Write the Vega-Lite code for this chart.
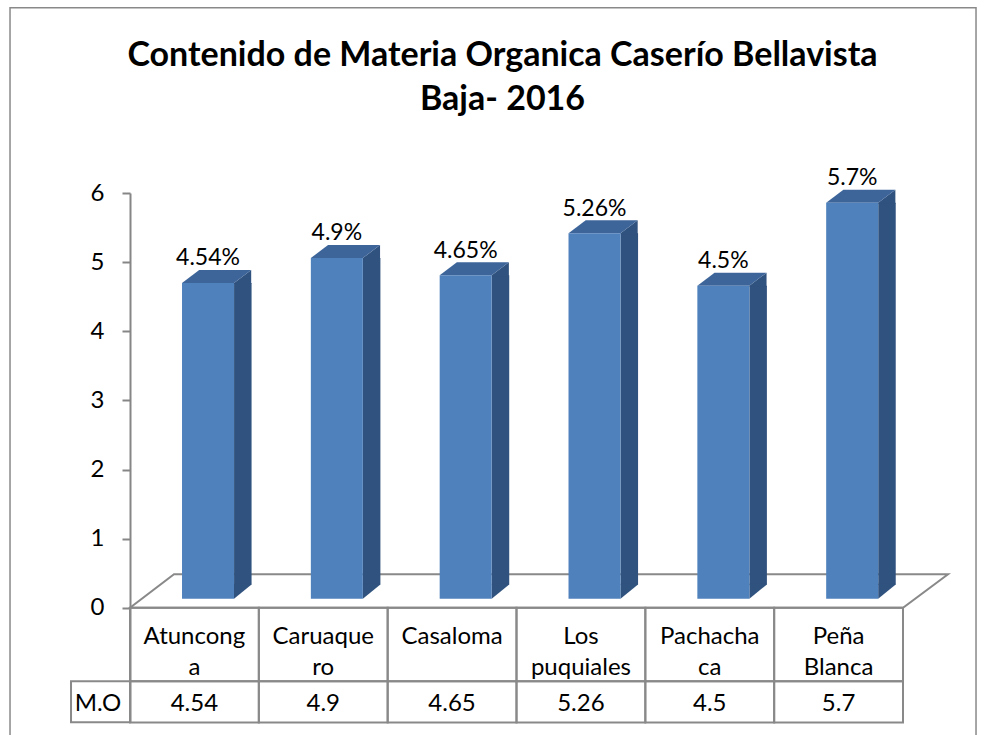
{
  "$schema": "https://vega.github.io/schema/vega-lite/v6.json",
  "width": 773,
  "height": 529.5,
  "autosize": {"type": "none"},
  "padding": {"left": 130, "top": 193, "right": 84, "bottom": 12.5},
  "background": "white",
  "config": {
    "view": {"stroke": null},
    "font": "Lato",
    "axisY": {"grid": false, "domainColor": "#868686", "domainWidth": 2, "tickColor": "#868686", "tickWidth": 2, "tickSize": 8, "labelFont": "Lato", "labelFontSize": 24, "labelColor": "#000000", "labelPadding": 18}
  },
  "title": {
    "text": ["Contenido de Materia Organica Caserío Bellavista", "Baja- 2016"],
    "font": "Lato", "fontSize": 34, "fontWeight": "bold", "color": "#000000",
    "anchor": "middle", "frame": "group", "offset": -112, "dx": -14, "lineHeight": 44
  },
  "data": {"values": [
    {"sitio": "Atunconga", "etiqueta": "Atuncong\na", "mo": 4.54},
    {"sitio": "Caruaquero", "etiqueta": "Caruaque\nro", "mo": 4.9},
    {"sitio": "Casaloma", "etiqueta": "Casaloma", "mo": 4.65},
    {"sitio": "Los puquiales", "etiqueta": "Los\npuquiales", "mo": 5.26},
    {"sitio": "Pachachaca", "etiqueta": "Pachacha\nca", "mo": 4.5},
    {"sitio": "Peña Blanca", "etiqueta": "Peña\nBlanca", "mo": 5.7}
  ]},
  "encoding": {
    "x": {"field": "sitio", "type": "nominal", "axis": null,
      "scale": {"domain": ["Atunconga", "Caruaquero", "Casaloma", "Los puquiales", "Pachachaca", "Peña Blanca"], "paddingInner": 0, "paddingOuter": 0}}
  },
  "layer": [
    {
      "data": {"values": [{}]},
      "mark": {"type": "point", "shape": "M-184.4,-185.3 L781.6,-185.3 L781.6,566 L-184.4,566 Z", "size": 4, "filled": false, "color": "#898989", "strokeWidth": 1.5, "opacity": 1},
      "encoding": {
        "x": {"datum": "Atunconga", "axis": null, "scale": {"domain": ["Atunconga", "Caruaquero", "Casaloma", "Los puquiales", "Pachachaca", "Peña Blanca"], "paddingInner": 0, "paddingOuter": 0}},
        "y": {"datum": 6, "type": "quantitative", "axis": {"title": null, "values": [0, 1, 2, 3, 4, 5, 6]}, "scale": {"domain": [-1.66, 6], "nice": false, "zero": false}}
      }
    },
    {
      "data": {"values": [{}]},
      "mark": {"type": "point", "shape": "M-64.4,0 L708.6,0 L753.6,-33.5 L-20.4,-33.5 Z", "size": 4, "filled": false, "color": "#898989", "strokeWidth": 2, "opacity": 1},
      "encoding": {
        "x": {"datum": "Atunconga", "axis": null, "scale": {"domain": ["Atunconga", "Caruaquero", "Casaloma", "Los puquiales", "Pachachaca", "Peña Blanca"], "paddingInner": 0, "paddingOuter": 0}},
        "y": {"datum": 0, "type": "quantitative", "axis": {"title": null, "values": [0, 1, 2, 3, 4, 5, 6]}, "scale": {"domain": [-1.66, 6], "nice": false, "zero": false}}
      }
    },
    {
      "mark": {"type": "rect", "fillOpacity": 0, "stroke": "#898989", "strokeWidth": 2},
      "encoding": {
        "y": {"datum": 0, "type": "quantitative", "axis": {"title": null, "values": [0, 1, 2, 3, 4, 5, 6]}, "scale": {"domain": [-1.66, 6], "nice": false, "zero": false}},
        "y2": {"datum": -1.063}
      }
    },
    {
      "mark": {"type": "rect", "fillOpacity": 0, "stroke": "#898989", "strokeWidth": 2},
      "encoding": {
        "y": {"datum": -1.063, "type": "quantitative", "axis": {"title": null, "values": [0, 1, 2, 3, 4, 5, 6]}, "scale": {"domain": [-1.66, 6], "nice": false, "zero": false}},
        "y2": {"datum": -1.66}
      }
    },
    {
      "data": {"values": [{}]},
      "mark": {"type": "point", "shape": "M-123.4,0 L-64.4,0 L-64.4,41 L-123.4,41 Z", "size": 4, "filled": false, "color": "#898989", "strokeWidth": 2, "opacity": 1},
      "encoding": {
        "x": {"datum": "Atunconga", "axis": null, "scale": {"domain": ["Atunconga", "Caruaquero", "Casaloma", "Los puquiales", "Pachachaca", "Peña Blanca"], "paddingInner": 0, "paddingOuter": 0}},
        "y": {"datum": -1.063, "type": "quantitative", "axis": {"title": null, "values": [0, 1, 2, 3, 4, 5, 6]}, "scale": {"domain": [-1.66, 6], "nice": false, "zero": false}}
      }
    },
    {
      "mark": {"type": "bar", "width": 17.5, "xOffset": 48.4, "yOffset": -11, "y2Offset": -23, "color": "#30527E"},
      "encoding": {
        "y": {"field": "mo", "type": "quantitative", "axis": {"title": null, "values": [0, 1, 2, 3, 4, 5, 6]}, "scale": {"domain": [-1.66, 6], "nice": false, "zero": false}},
        "y2": {"datum": 0}
      }
    },
    {
      "mark": {"type": "point", "shape": "M39.6,-10 L39.6,-11 L56.8,-24 L56.8,-10 Z", "size": 4, "filled": true, "color": "#30527E", "strokeWidth": 0, "opacity": 1},
      "encoding": {
        "y": {"field": "mo", "type": "quantitative", "axis": {"title": null, "values": [0, 1, 2, 3, 4, 5, 6]}, "scale": {"domain": [-1.66, 6], "nice": false, "zero": false}}
      }
    },
    {
      "mark": {"type": "point", "shape": "M39.6,-24 L56.8,-24 L56.8,-23 L39.6,-9 Z", "size": 4, "filled": true, "color": "#30527E", "strokeWidth": 0, "opacity": 1},
      "encoding": {
        "y": {"datum": 0, "type": "quantitative", "axis": {"title": null, "values": [0, 1, 2, 3, 4, 5, 6]}, "scale": {"domain": [-1.66, 6], "nice": false, "zero": false}}
      }
    },
    {
      "mark": {"type": "point", "shape": "M-12.4,-11 L39.6,-11 L56.8,-24 L4.8,-24 Z", "size": 4, "filled": true, "color": "#3D659A", "strokeWidth": 0, "opacity": 1},
      "encoding": {
        "y": {"field": "mo", "type": "quantitative", "axis": {"title": null, "values": [0, 1, 2, 3, 4, 5, 6]}, "scale": {"domain": [-1.66, 6], "nice": false, "zero": false}}
      }
    },
    {
      "mark": {"type": "bar", "width": 52, "xOffset": 13.6, "yOffset": -11, "y2Offset": -9, "color": "#4F81BD"},
      "encoding": {
        "y": {"field": "mo", "type": "quantitative", "axis": {"title": null, "values": [0, 1, 2, 3, 4, 5, 6]}, "scale": {"domain": [-1.66, 6], "nice": false, "zero": false}},
        "y2": {"datum": 0}
      }
    },
    {
      "transform": [{"calculate": "datum.mo + '%'", "as": "pct"}],
      "mark": {"type": "text", "font": "Lato", "fontSize": 23, "color": "#000000", "dx": 13.6, "dy": -28.6, "baseline": "alphabetic", "align": "center"},
      "encoding": {
        "y": {"field": "mo", "type": "quantitative", "axis": {"title": null, "values": [0, 1, 2, 3, 4, 5, 6]}, "scale": {"domain": [-1.66, 6], "nice": false, "zero": false}},
        "text": {"field": "pct"}
      }
    },
    {
      "mark": {"type": "text", "font": "Lato", "fontSize": 24, "color": "#000000", "baseline": "alphabetic", "align": "center", "lineBreak": "\n", "lineHeight": 31},
      "encoding": {
        "y": {"datum": -0.521, "type": "quantitative", "axis": {"title": null, "values": [0, 1, 2, 3, 4, 5, 6]}, "scale": {"domain": [-1.66, 6], "nice": false, "zero": false}},
        "text": {"field": "etiqueta"}
      }
    },
    {
      "mark": {"type": "text", "font": "Lato", "fontSize": 24, "color": "#000000", "baseline": "alphabetic", "align": "center"},
      "encoding": {
        "y": {"datum": -1.49, "type": "quantitative", "axis": {"title": null, "values": [0, 1, 2, 3, 4, 5, 6]}, "scale": {"domain": [-1.66, 6], "nice": false, "zero": false}},
        "text": {"field": "mo", "type": "quantitative"}
      }
    },
    {
      "data": {"values": [{}]},
      "mark": {"type": "text", "font": "Lato", "fontSize": 24, "color": "#000000", "baseline": "alphabetic", "align": "center", "dx": -96.4},
      "encoding": {
        "x": {"datum": "Atunconga", "axis": null, "scale": {"domain": ["Atunconga", "Caruaquero", "Casaloma", "Los puquiales", "Pachachaca", "Peña Blanca"], "paddingInner": 0, "paddingOuter": 0}},
        "y": {"datum": -1.49, "type": "quantitative", "axis": {"title": null, "values": [0, 1, 2, 3, 4, 5, 6]}, "scale": {"domain": [-1.66, 6], "nice": false, "zero": false}},
        "text": {"value": "M.O"}
      }
    }
  ]
}
